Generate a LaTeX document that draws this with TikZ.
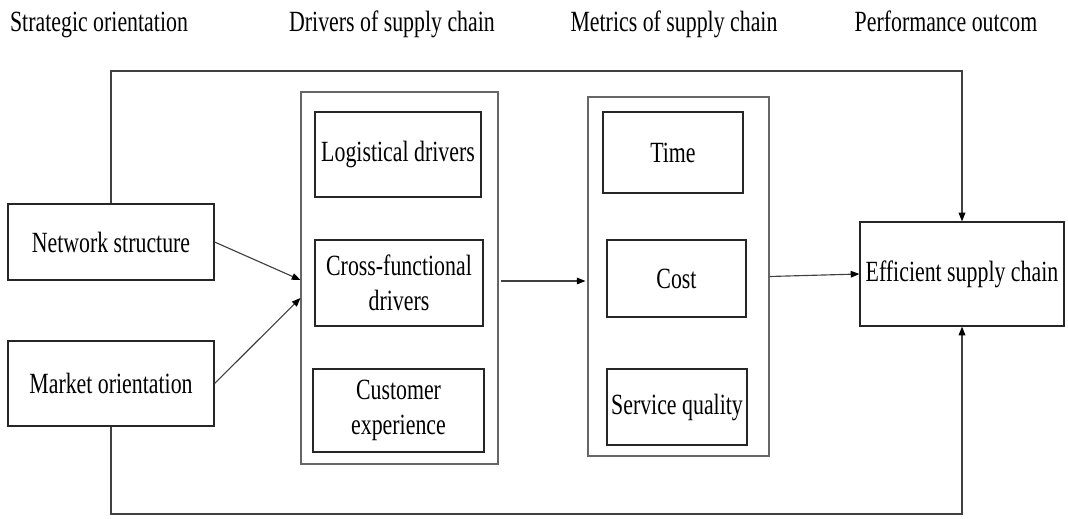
\documentclass[tikz,border=0pt]{standalone}
\usepackage{fontspec}
\setmainfont[FakeStretch=0.745]{Liberation Serif}
\usetikzlibrary{arrows.meta,calc}
\begin{document}
\begin{tikzpicture}[x=0.75pt,y=-0.75pt,
  txt/.style={font=\fontsize{22}{26.5}\selectfont, inner sep=1pt},
  box/.style={txt, draw=black!85, line width=0.9pt, align=center},
  frame/.style={draw=black!60, line width=0.8pt},
  link/.style={draw=black!75, line width=0.85pt},
  arr/.style={link, -{Triangle[length=6.5pt,width=5pt,color=black]}},
]
\useasboundingbox (0,0) rectangle (1068,518);

% titles
\node[txt, anchor=base] (t1) at (99,31) {Strategic orientation};
\node[txt, anchor=base] (t2) at (392,31) {Drivers of supply chain};
\node[txt, anchor=base] (t3) at (674,31) {Metrics of supply chain};
\node[txt, anchor=base] (t4) at (946,31) {Performance outcom};

% frames
\node[frame, minimum width=147.75pt, minimum height=279pt] (drv) at (399.5,278) {};
\node[frame, minimum width=135.75pt, minimum height=269.25pt] (met) at (678.5,276.5) {};

% left boxes
\node[box, minimum width=154.5pt, minimum height=57pt] (net) at (111,242) {Network structure};
\node[box, minimum width=154.5pt, minimum height=63.75pt] (mkt) at (111,383.5) {Market orientation};

% drivers
\node[box, minimum width=124.5pt, minimum height=63.75pt] (log) at (398,154.5) {Logistical drivers};
\node[box, minimum width=126pt, minimum height=64.5pt] (cross) at (399,283) {Cross-functional\\drivers};
\node[box, minimum width=128.25pt, minimum height=62.25pt] (cust) at (398.5,410.5) {Customer\\experience};

% metrics
\node[box, minimum width=105pt, minimum height=60.75pt] (time) at (673,152.5) {Time};
\node[box, minimum width=104.25pt, minimum height=57.75pt] (cost) at (676.5,278.5) {Cost};
\node[box, minimum width=105pt, minimum height=57pt] (sq) at (677,407) {Service quality};

% outcome
\node[box, minimum width=153pt, minimum height=78pt] (eff) at (962,274) {Efficient supply chain};

% routing coordinates
\coordinate (top) at (0,71);
\coordinate (bot) at (0,514);

% connectors
\draw[arr] (net.north) -- (net.north |- top) -- (eff.north |- top) -- (eff.north);
\draw[arr] (mkt.south) -- (mkt.south |- bot) -- (eff.south |- bot) -- (eff.south);
\draw[arr] (net.east) -- ($(drv.west)+(0,2)$);
\draw[arr] (mkt.east) -- ($(drv.west)+(0,20)$);
\draw[arr] ($(drv.east)+(2,3)$) -- ($(met.west)+(-2,4.5)$);
\draw[arr] (met.east) -- (eff.west);
\end{tikzpicture}
\end{document}
